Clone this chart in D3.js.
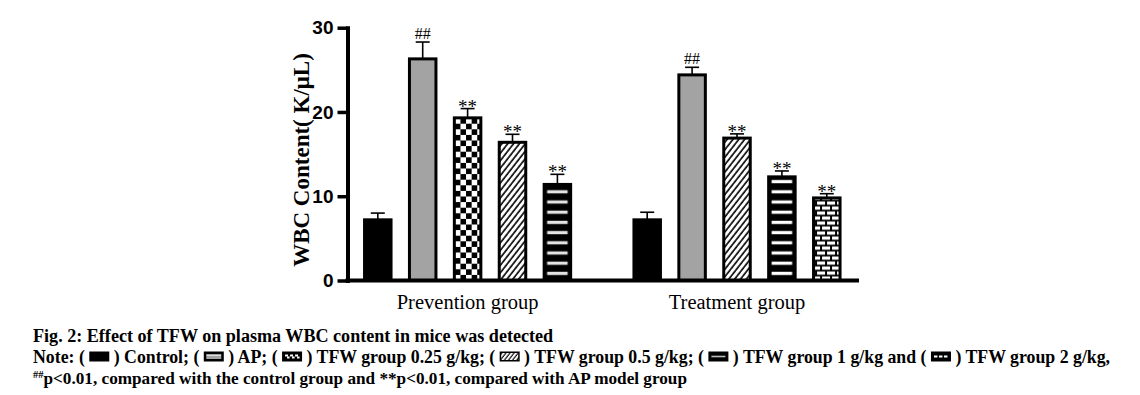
<!DOCTYPE html>
<html><head><meta charset="utf-8">
<script src="https://cdn.jsdelivr.net/npm/d3@7"></script>
<style>body{margin:0;background:#fff} svg{display:block} text{white-space:pre}</style>
</head><body><svg id="c" width="1140" height="395"></svg>
<script>
// ---------- data ----------
const groups = ["Prevention group", "Treatment group"];
const preventionSeries = ["Control", "AP", "TFW group 0.25 g/kg", "TFW group 0.5 g/kg", "TFW group 1 g/kg"];
const treatmentSeries = ["Control", "AP", "TFW group 0.5 g/kg", "TFW group 1 g/kg", "TFW group 2 g/kg"];
const preventionMeans = [7.2, 26.3, 19.3, 16.4, 11.4];
const preventionErrors = [0.8, 2.0, 1.1, 0.95, 1.2];
const treatmentMeans = [7.2, 24.4, 16.9, 12.3, 9.8];
const treatmentErrors = [0.9, 0.9, 0.5, 0.7, 0.5];
const preventionMarks = ["", "##", "**", "**", "**"];
const treatmentMarks = ["", "##", "**", "**", "**"];
const yTicks = [0, 10, 20, 30];
const yLabel = "WBC Content( K/\u03BCL)";
const captionTitle = "Fig. 2: Effect of TFW on plasma WBC content in mice was detected";
const legendSeries = ["Control", "AP", "TFW group 0.25 g/kg", "TFW group 0.5 g/kg", "TFW group 1 g/kg", "TFW group 2 g/kg"];

// ---------- setup ----------
const svg = d3.select("#c");
const defs = svg.append("defs");
const serif = "'Liberation Serif','Times New Roman',serif";
const sans = "'Liberation Sans',Arial,sans-serif";

const styleOf = {
  "Control": "solid", "AP": "gray", "TFW group 0.25 g/kg": "checker",
  "TFW group 0.5 g/kg": "hatch", "TFW group 1 g/kg": "stripes", "TFW group 2 g/kg": "brick"
};

const bars = [];
[[preventionSeries, preventionMeans, preventionErrors, preventionMarks],
 [treatmentSeries, treatmentMeans, treatmentErrors, treatmentMarks]].forEach((g, gi) => {
  g[0].forEach((s, i) => bars.push({group: groups[gi], gi: gi, series: s, slot: gi * 6 + i,
    mean: g[1][i], err: g[2][i], mark: g[3][i]}));
});

const x = d3.scaleBand().domain(d3.range(11)).range([355.35, 849.25]).paddingInner(0.343).paddingOuter(0.343 / 2);
const y = d3.scaleLinear().domain([0, 30]).range([280.5, 27.7]);
const bw = x.bandwidth();

// ---------- patterns ----------
function makePattern(id, type, bx, scale, light) {
  const s = scale || 1;
  let p;
  if (type === "checker") {
    const c = 5.6 * s;
    p = defs.append("pattern").attr("id", id).attr("patternUnits", "userSpaceOnUse")
      .attr("x", bx + 2).attr("y", y(0)).attr("width", 2 * c).attr("height", 2 * c);
    p.append("rect").attr("width", 2 * c).attr("height", 2 * c).attr("fill", "#fff");
    p.append("rect").attr("width", c).attr("height", c).attr("fill", "#000");
    p.append("rect").attr("x", c).attr("y", c).attr("width", c).attr("height", c).attr("fill", "#000");
  } else if (type === "hatch") {
    p = defs.append("pattern").attr("id", id).attr("patternUnits", "userSpaceOnUse")
      .attr("width", 4.6 * s).attr("height", 4.6 * s).attr("patternTransform", "rotate(38)");
    p.append("rect").attr("width", 4.6 * s).attr("height", 4.6 * s).attr("fill", "#fff");
    p.append("line").attr("x1", 1).attr("x2", 1).attr("y1", 0).attr("y2", 4.6 * s)
      .attr("stroke", "#000").attr("stroke-width", 1.6 * s);
  } else if (type === "stripes") {
    p = defs.append("pattern").attr("id", id).attr("patternUnits", "userSpaceOnUse")
      .attr("x", bx).attr("y", y(0) - 2).attr("width", bw).attr("height", 10.2);
    p.append("rect").attr("width", bw).attr("height", 10.2).attr("fill", "#000");
    p.append("rect").attr("x", 4.5).attr("y", 3.5).attr("width", bw - 9).attr("height", 3.2)
      .attr("fill", light ? "#e4e4e4" : "#fff");
  } else if (type === "brick") {
    p = defs.append("pattern").attr("id", id).attr("patternUnits", "userSpaceOnUse")
      .attr("x", bx + 4).attr("y", y(0)).attr("width", 10).attr("height", 10);
    p.append("rect").attr("width", 10).attr("height", 10).attr("fill", "#000");
    p.append("rect").attr("x", 1).attr("y", 1).attr("width", 8).attr("height", 3.2).attr("fill", "#fff");
    p.append("rect").attr("x", 0).attr("y", 6).attr("width", 4).attr("height", 3.2).attr("fill", "#fff");
    p.append("rect").attr("x", 6).attr("y", 6).attr("width", 4).attr("height", 3.2).attr("fill", "#fff");
  }
  return "url(#" + id + ")";
}

function fillFor(d, i) {
  const t = styleOf[d.series];
  if (t === "solid") return "#000";
  if (t === "gray") return "#a3a3a3";
  return makePattern("p" + i, t, x(d.slot), 1, d.gi === 0);
}

// ---------- error bars ----------
const eg = svg.append("g").attr("stroke", "#000").attr("stroke-width", 1.6);
bars.forEach(d => {
  const cx = x(d.slot) + bw / 2;
  eg.append("line").attr("x1", cx).attr("x2", cx).attr("y1", y(d.mean)).attr("y2", y(d.mean + d.err));
  eg.append("line").attr("x1", cx - 7).attr("x2", cx + 7).attr("y1", y(d.mean + d.err)).attr("y2", y(d.mean + d.err));
});

// ---------- bars ----------
svg.append("g").selectAll("rect").data(bars).join("rect")
  .attr("x", d => x(d.slot) + 1.5)
  .attr("width", bw - 3)
  .attr("y", d => y(d.mean))
  .attr("height", d => y(0) - y(d.mean))
  .attr("fill", (d, i) => fillFor(d, i))
  .attr("stroke", "#000").attr("stroke-width", 3);

// ---------- significance marks ----------
svg.append("g").selectAll("text").data(bars.filter(d => d.mark)).join("text")
  .attr("x", d => x(d.slot) + bw / 2)
  .attr("y", d => y(d.mean + d.err) + (d.mark === "##" ? -3.5 : 4))
  .attr("text-anchor", "middle")
  .attr("font-family", serif).attr("font-size", d => d.mark === "##" ? 16 : 19)
  .text(d => d.mark);

// ---------- axes ----------
const axisX = 347.5;
const yAxis = svg.append("g").attr("transform", `translate(${axisX},0)`)
  .call(d3.axisLeft(y).tickValues(yTicks).tickSize(10).tickSizeOuter(0).tickPadding(4));
yAxis.select(".domain").attr("stroke-width", 4).attr("stroke-linecap", "square");
yAxis.selectAll(".tick line").attr("stroke-width", 3.5);
yAxis.selectAll(".tick text").attr("font-family", sans).attr("font-weight", "bold")
  .attr("font-size", 19).attr("fill", "#000");

svg.append("line").attr("x1", axisX - 2).attr("x2", 859).attr("y1", y(0)).attr("y2", y(0))
  .attr("stroke", "#000").attr("stroke-width", 4);

// group labels
svg.append("g").selectAll("text").data(groups).join("text")
  .attr("x", (d, gi) => x(gi * 6 + 2) + bw / 2)
  .attr("y", 309)
  .attr("text-anchor", "middle")
  .attr("font-family", serif).attr("font-size", 20.5)
  .text(d => d);

// y label
svg.append("text")
  .attr("transform", "translate(309,160) rotate(-90)")
  .attr("text-anchor", "middle")
  .attr("font-family", serif).attr("font-weight", "bold").attr("font-size", 23)
  .text(yLabel);

// ---------- caption ----------
function drawIcon(type, ix, baseline, idx) {
  const iw = 20, ih = 10, iy = baseline - 11.5;
  const g = svg.append("g");
  if (type === "solid") {
    g.append("rect").attr("x", ix).attr("y", iy).attr("width", iw).attr("height", ih).attr("fill", "#000");
  } else if (type === "gray") {
    g.append("rect").attr("x", ix).attr("y", iy).attr("width", iw).attr("height", ih).attr("fill", "#000");
    g.append("rect").attr("x", ix + 2.5).attr("y", iy + 2.5).attr("width", iw - 5).attr("height", ih - 5).attr("fill", "#a3a3a3");
    g.append("line").attr("x1", ix + 3).attr("x2", ix + iw - 3).attr("y1", iy + 4).attr("y2", iy + 4).attr("stroke", "#ddd").attr("stroke-width", 1);
  } else if (type === "checker") {
    g.append("rect").attr("x", ix).attr("y", iy).attr("width", iw).attr("height", ih).attr("fill", "#000");
    [0, 1, 2].forEach(k => g.append("rect").attr("x", ix + 3 + k * 5).attr("y", iy + 3).attr("width", 3).attr("height", 2).attr("fill", "#fff"));
    [0, 1, 2].forEach(k => g.append("rect").attr("x", ix + 5 + k * 5).attr("y", iy + 5).attr("width", 2.5).attr("height", 2).attr("fill", "#fff"));
  } else if (type === "hatch") {
    g.append("rect").attr("x", ix + 0.75).attr("y", iy + 0.75).attr("width", iw - 1.5).attr("height", ih - 1.5)
      .attr("fill", makePattern("ic" + idx, "hatch", 0, 0.7)).attr("stroke", "#000").attr("stroke-width", 1.5);
  } else if (type === "stripes") {
    g.append("rect").attr("x", ix).attr("y", iy).attr("width", iw).attr("height", ih).attr("fill", "#000");
    g.append("rect").attr("x", ix + 3).attr("y", iy + 4.2).attr("width", iw - 6).attr("height", 1.6).attr("fill", "#bbb");
  } else if (type === "brick") {
    g.append("rect").attr("x", ix).attr("y", iy).attr("width", iw).attr("height", ih).attr("fill", "#000");
    [0, 1, 2].forEach(k => g.append("rect").attr("x", ix + 3 + k * 5).attr("y", iy + 4).attr("width", 3.5).attr("height", 2).attr("fill", "#fff"));
  }
  return iw;
}

function layoutLine(segs, x0, baseline, size) {
  let cx = x0;
  segs.forEach((s, k) => {
    if (s.icon) {
      cx += drawIcon(s.icon, cx, baseline, k);
    } else {
      const t = svg.append("text").attr("x", cx).attr("y", baseline + (s.dy || 0))
        .attr("font-family", serif).attr("font-weight", "bold")
        .attr("font-size", s.size || size).text(s.text);
      cx += t.node().getComputedTextLength();
    }
  });
}

layoutLine([{text: captionTitle}], 33, 342, 18.1);

const line2 = [{text: "Note: ( "}];
legendSeries.forEach((s, i) => {
  line2.push({icon: styleOf[s]});
  if (i < legendSeries.length - 2) line2.push({text: " ) " + s + "; ( "});
  else if (i === legendSeries.length - 2) line2.push({text: " ) " + s + " and ( "});
  else line2.push({text: " ) " + s + ","});
});
layoutLine(line2, 33, 363, 17.8);

layoutLine([
  {text: "##", size: 10.5, dy: -6},
  {text: "p<0.01, compared with the control group and **p<0.01, compared with AP model group"}
], 33, 384, 17.2);
</script></body></html>
